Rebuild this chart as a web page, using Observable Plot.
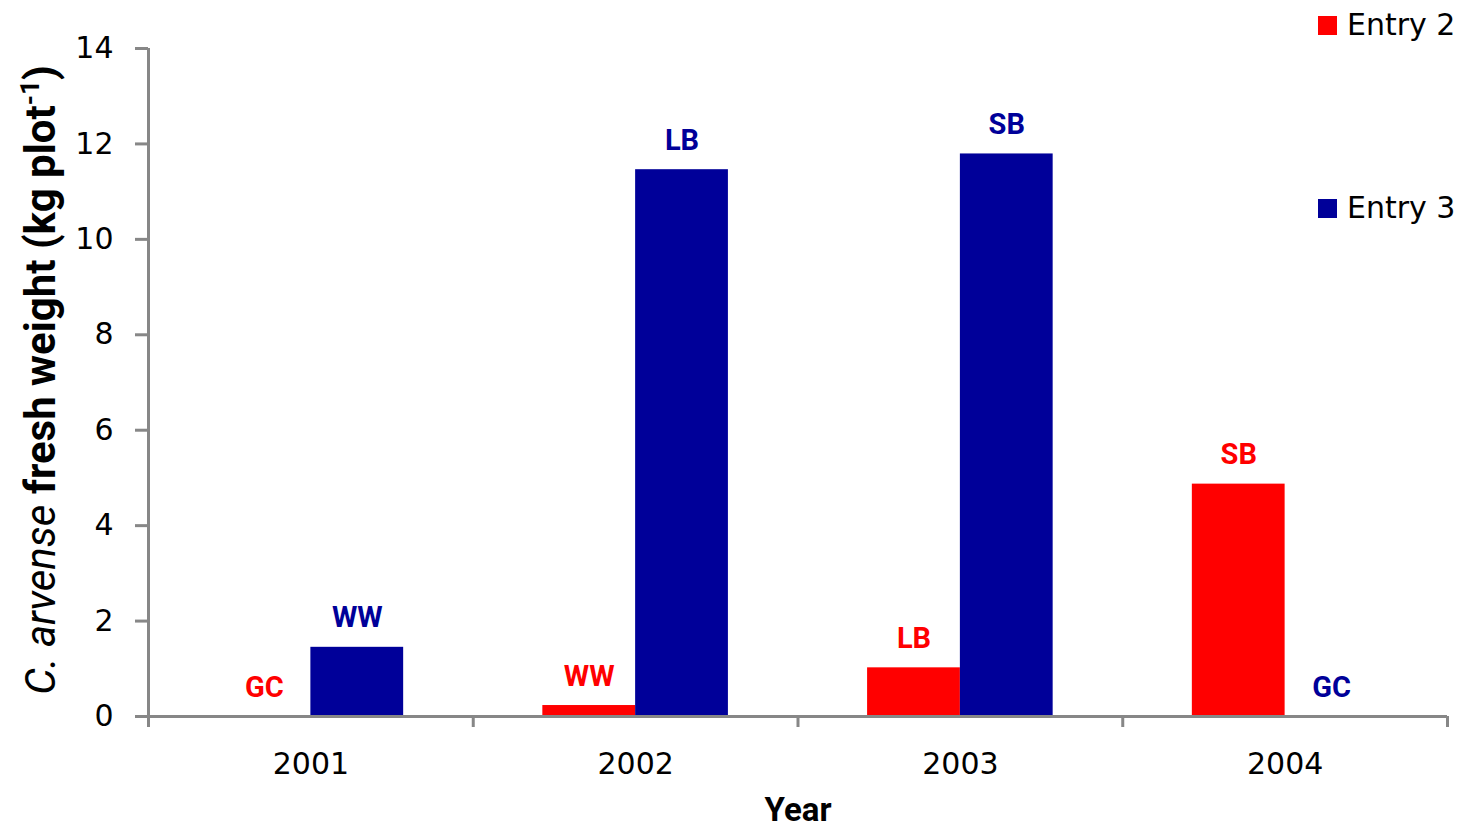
<!DOCTYPE html>
<html><head><meta charset="utf-8">
<script src="https://cdn.jsdelivr.net/npm/d3@7"></script>
<script src="https://cdn.jsdelivr.net/npm/@observablehq/plot@0.6"></script>
<style>
body{margin:0;background:#fff;}
#wrap{position:relative;width:1464px;height:832px;overflow:hidden;}
.lg{position:absolute;left:1318px;font-family:"DejaVu Sans";font-size:30px;color:#000;display:flex;align-items:center;line-height:1;}
.lg .sw{display:inline-block;width:19px;height:19px;margin-right:10px;}
</style></head><body><div id="wrap"></div>
<script>
const years = ["2001", "2002", "2003", "2004"];
const series = ["Entry 2", "Entry 3"];
const entry2 = [0, 0.23, 1.02, 4.87];
const entry3 = [1.45, 11.46, 11.79, 0];
const entry2Labels = ["GC", "WW", "LB", "SB"];
const entry3Labels = ["WW", "LB", "SB", "GC"];
const colors = ["#ff0000", "#000099"];
const yTicks = [0, 2, 4, 6, 8, 10, 12, 14];

const barFrac = 1 / 3.5; // two bars + 150% gap per category
const data = [];
years.forEach((yr, i) => {
  data.push({year: yr, series: series[0], value: entry2[i], label: entry2Labels[i], x1: i + 0.5 - barFrac, x2: i + 0.5});
  data.push({year: yr, series: series[1], value: entry3[i], label: entry3Labels[i], x1: i + 0.5, x2: i + 0.5 + barFrac});
});

const axisGray = "#878787";
const boldFont = "Roboto";

const chart = Plot.plot({
  width: 1464, height: 832,
  marginLeft: 148, marginRight: 17, marginTop: 48, marginBottom: 116,
  style: {fontFamily: "DejaVu Sans", fontSize: "30px", color: "#000", background: "#fff"},
  x: {type: "linear", domain: [0, years.length]},
  y: {domain: [0, 14]},
  color: {domain: series, range: colors},
  marks: [
    Plot.rectY(data, {x1: "x1", x2: "x2", y1: 0, y2: "value", fill: "series"}),
    Plot.ruleX([0], {stroke: axisGray, strokeWidth: 3}),
    Plot.ruleY([0], {stroke: axisGray, strokeWidth: 3}),
    Plot.axisY({ticks: yTicks, tickSize: 13, tickPadding: 22, stroke: axisGray, strokeWidth: 3, fill: "#000", label: null, fontSize: 30}),
    Plot.axisX({ticks: d3.range(0, years.length + 1), tickSize: 11, tickFormat: () => "", stroke: axisGray, strokeWidth: 3, label: null}),
    Plot.axisX({ticks: years.map((_, i) => i + 0.5), tickSize: 0, tickPadding: 36, tickFormat: v => years[Math.floor(v)], fill: "#000", label: null, fontSize: 30}),
    Plot.text(data, {x: d => (d.x1 + d.x2) / 2, y: "value", text: "label", fill: "series", dy: -20, lineAnchor: "bottom", fontWeight: "bold", fontSize: 29, fontFamily: boldFont}),
    Plot.text(["Year"], {frameAnchor: "bottom", dy: 94, lineAnchor: "middle", fontWeight: "bold", fontSize: 33, fontFamily: boldFont, fill: "#000"})
  ]
});

const wrap = document.getElementById("wrap");
wrap.appendChild(chart);

// Y-axis title with italic species name and superscript
const svg = d3.select(chart);
const yt = svg.append("text")
  .attr("transform", "translate(55,380) rotate(-90)")
  .attr("text-anchor", "middle")
  .attr("font-family", boldFont)
  .attr("font-size", 42)
  .attr("fill", "#000");
yt.append("tspan").attr("font-style", "italic").attr("font-weight", "normal").text("C. arvense");
yt.append("tspan").attr("font-weight", "bold").text(" fresh weight (kg plot");
yt.append("tspan").attr("font-weight", "bold").attr("font-size", 26).attr("dy", -16).text("-1");
yt.append("tspan").attr("font-weight", "bold").attr("dy", 16).text(")");

// Legend (top right, overlapping plot area as in the reference)
const legendTops = [10, 193];
series.forEach((s, i) => {
  const div = document.createElement("div");
  div.className = "lg";
  div.style.top = legendTops[i] + "px";
  div.innerHTML = `<span class="sw" style="background:${colors[i]}"></span><span>${s}</span>`;
  wrap.appendChild(div);
});
</script>
</body></html>
